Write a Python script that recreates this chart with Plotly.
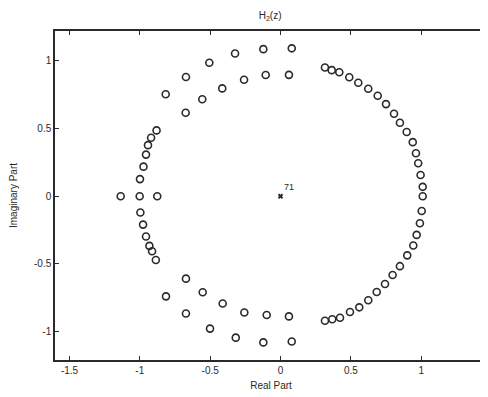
import plotly.graph_objects as go

# Zeros of H2(z) (real part, imaginary part)
zero_real = [
    # unit-circle arc on the right, upper half
    1.011, 0.996, 0.979, 0.963, 0.940, 0.897, 0.849, 0.807, 0.750, 0.691,
    0.624, 0.553, 0.489, 0.418, 0.364, 0.316,
    # z = 1
    1.011,
    # unit-circle arc on the right, lower half
    1.004, 0.991, 0.968, 0.944, 0.901, 0.849, 0.797, 0.743, 0.684, 0.624,
    0.560, 0.494, 0.423, 0.368, 0.316,
    # left unit-circle arc, upper
    -0.999, -0.974, -0.956, -0.942, -0.920, -0.881,
    # left unit-circle arc, lower
    -0.996, -0.977, -0.956, -0.932, -0.913, -0.886,
    # real-axis zeros near -1
    -1.136, -1.001, -0.876,
    # off-circle zeros, upper outer
    0.080, -0.122, -0.323, -0.506, -0.672, -0.816,
    # upper inner
    0.060, -0.105, -0.259, -0.414, -0.556, -0.674,
    # lower inner
    0.060, -0.098, -0.257, -0.411, -0.553, -0.672,
    # lower outer
    0.080, -0.122, -0.318, -0.501, -0.672, -0.814,
]
zero_imag = [
    0.069, 0.156, 0.243, 0.317, 0.399, 0.474, 0.542, 0.609, 0.680, 0.742,
    0.793, 0.838, 0.878, 0.915, 0.931, 0.950,
    0.0,
    -0.110, -0.200, -0.286, -0.364, -0.437, -0.517, -0.582, -0.649, -0.708, -0.769,
    -0.821, -0.856, -0.898, -0.909, -0.920,
    0.126, 0.218, 0.307, 0.377, 0.432, 0.486,
    -0.121, -0.210, -0.298, -0.367, -0.407, -0.471,
    0.0, 0.0, 0.0,
    1.092, 1.086, 1.054, 0.985, 0.880, 0.753,
    0.896, 0.895, 0.860, 0.796, 0.716, 0.616,
    -0.888, -0.878, -0.859, -0.793, -0.710, -0.609,
    -1.073, -1.080, -1.045, -0.978, -0.867, -0.740,
]

# Pole at the origin and its multiplicity label
pole_real = [0.0]
pole_imag = [0.0]
pole_label = ["71"]

x_ticks = [-1.5, -1, -0.5, 0, 0.5, 1]
x_tick_text = ["-1.5", "-1", "-0.5", "0", "0.5", "1"]
y_ticks = [-1, -0.5, 0, 0.5, 1]
y_tick_text = ["-1", "-0.5", "0", "0.5", "1"]

ink = "#2a2a2a"
fam = "Liberation Sans, Arial, sans-serif"
font = dict(family=fam, size=10, color=ink)

fig = go.Figure()
fig.add_trace(go.Scatter(
    x=zero_real, y=zero_imag, mode="markers",
    marker=dict(symbol="circle-open", size=7, color=ink, line=dict(width=1.6, color=ink)),
    showlegend=False, hoverinfo="skip",
))
fig.add_trace(go.Scatter(
    x=pole_real, y=pole_imag, mode="markers+text",
    marker=dict(symbol="x-thin", size=4, color=ink, line=dict(width=2, color=ink)),
    text=pole_label, textposition="top right",
    textfont=dict(family=fam, size=9, color=ink),
    showlegend=False, hoverinfo="skip",
))

axis_common = dict(
    showline=True, linecolor=ink, linewidth=1.5, mirror="ticks",
    ticks="inside", ticklen=4, tickwidth=1.2, tickcolor=ink,
    showgrid=False, zeroline=False, tickfont=font, automargin=False,
)
# the page body adds an 8px offset, so the figure is sized to fit the window
fig.update_layout(
    width=480, height=389,
    margin=dict(l=47, r=1, t=23, b=37),
    paper_bgcolor="white", plot_bgcolor="white",
    font=font,
    title=dict(text="H<sub>2</sub>(z)", x=0.546, xanchor="center", y=0.982, yanchor="middle",
               automargin=False,
               font=dict(family=fam, size=10, color=ink)),
    xaxis=dict(range=[-1.603, 1.468], tickvals=x_ticks, ticktext=x_tick_text,
               title=dict(text="Real Part", font=font, standoff=7), **axis_common),
    yaxis=dict(range=[-1.21, 1.22], tickvals=y_ticks, ticktext=y_tick_text,
               title=dict(text="Imaginary Part", font=font, standoff=15), **axis_common),
)

fig.write_html("out.html")
